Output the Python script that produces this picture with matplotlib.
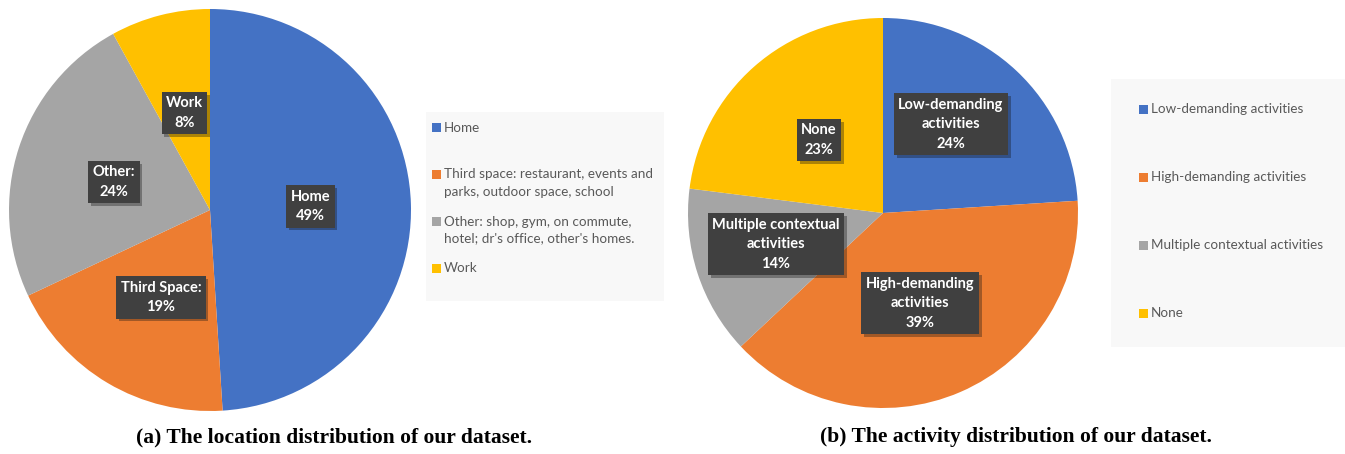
# -*- coding: utf-8 -*-
"""
Two pie charts: location and activity distribution of the dataset.
"""
import matplotlib
matplotlib.use('Agg')
from matplotlib import pyplot as plt
from matplotlib import patheffects
from matplotlib.patches import Rectangle

# data
loc_names = ['Home', 'Third Space:', 'Other:', 'Work']
loc_values = [49, 19, 24, 8]
loc_legend = ['Home',
              'Third space: restaurant, events and\nparks, outdoor space, school',
              "Other: shop, gym, on commute,\nhotel; dr's office, other's homes.",
              'Work']

act_names = ['Low-demanding\nactivities', 'High-demanding\nactivities',
             'Multiple contextual\nactivities', 'None']
act_values = [24, 39, 14, 23]
act_legend = ['Low-demanding activities', 'High-demanding activities',
              'Multiple contextual activities', 'None']

colors = ['#4472C4', '#ED7D31', '#A5A5A5', '#FFC000']

captions = ['(a) The location distribution of our dataset.',
            '(b) The activity distribution of our dataset.']

# layout (pixels of a 1345x454 canvas)
W, H = 1345, 454
# label positions in units of the pie radius (placed by hand, as in the original)
loc_label_xy = [(0.50, 0.017), (-0.244, -0.435), (-0.478, 0.139), (-0.127, 0.483)]
act_label_xy = [(0.349, 0.456), (0.190, -0.462), (-0.549, -0.159), (-0.328, 0.374)]


def px_rect(x0, y0, x1, y1):
    return [x0 / W, 1 - y1 / H, (x1 - x0) / W, (y1 - y0) / H]


fig = plt.figure(figsize=(W / 100, H / 100), dpi=100)
fig.patch.set_facecolor('white')

label_font = dict(family=['Lato', 'DejaVu Sans'], weight='bold', size=10.5,
                  color='white')
shadow = [patheffects.withSimplePatchShadow(offset=(2, -2), alpha=0.35)]


def draw_pie(rect, values, names, label_xy):
    ax = fig.add_axes(rect)
    ax.pie(values, colors=colors, startangle=90, counterclock=False,
           radius=1.0, wedgeprops={'linewidth': 0})
    ax.set_xlim(-1, 1)
    ax.set_ylim(-1, 1)
    ax.set_aspect('auto')
    ax.axis('off')
    for name, val, (x, y) in zip(names, values, label_xy):
        txt = ax.text(x, y, '{}\n{}%'.format(name, val), ha='center',
                      va='center', linespacing=1.5, **label_font,
                      bbox=dict(boxstyle='square,pad=0.3', fc='#404040',
                                ec='none'))
        txt.get_bbox_patch().set_path_effects(shadow)
    return ax


draw_pie(px_rect(9, 9, 411, 411), loc_values, loc_names, loc_label_xy)
draw_pie(px_rect(688, 18, 1078, 408), act_values, act_names, act_label_xy)

# overlay axes in pixel coordinates for legends and captions
ov = fig.add_axes([0, 0, 1, 1], zorder=-1)
ov.set_xlim(0, W)
ov.set_ylim(H, 0)
ov.axis('off')

legend_font = dict(family=['Lato', 'DejaVu Sans'], size=9.7, color='#595959')


def draw_legend(box, marker_x, first_y, step, labels):
    x0, y0, x1, y1 = box
    ov.add_patch(Rectangle((x0, y0), x1 - x0, y1 - y0, fc='#F8F8F8',
                           ec='none'))
    for i, (lab, col) in enumerate(zip(labels, colors)):
        yc = first_y + i * step
        ov.add_patch(Rectangle((marker_x, yc - 4.5), 9, 9, fc=col, ec='none'))
        for j, line in enumerate(lab.split('\n')):
            ov.text(marker_x + 12, yc + j * 17, line, ha='left', va='center',
                    **legend_font)


draw_legend((426, 112, 664, 301), 432, 127.5, 47, loc_legend)
draw_legend((1111, 79, 1345, 347), 1139, 109, 68, act_legend)

cap_font = dict(family=['Liberation Serif', 'DejaVu Serif'], weight='bold',
                size=15.5, color='black')
fig.text(334 / W, 1 - 437 / H, captions[0], ha='center', va='center',
         **cap_font)
fig.text(1016 / W, 1 - 437 / H, captions[1], ha='center', va='center',
         **cap_font)

fig.savefig('out.png', dpi=100, facecolor='white')
